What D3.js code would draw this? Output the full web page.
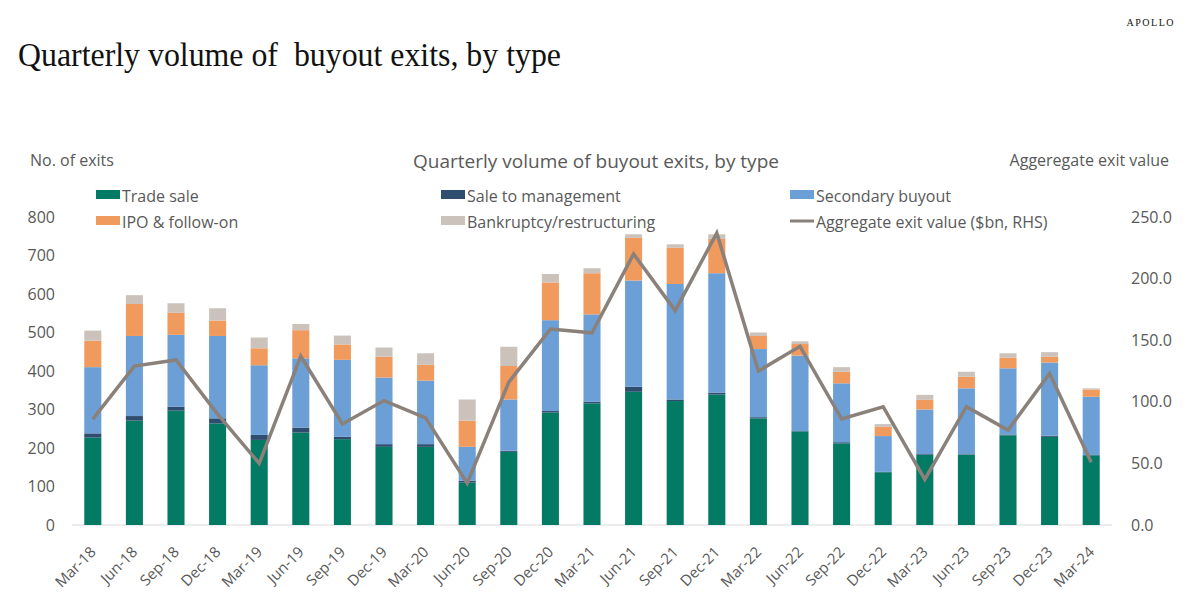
<!DOCTYPE html>
<html>
<head>
<meta charset="utf-8">
<script src="https://cdn.jsdelivr.net/npm/d3@7"></script>
<style>
  body { margin: 0; background: #fff; }
  text { font-family: "Open Sans", "Noto Sans", sans-serif; fill: #595959; }
  .serif { font-family: "Liberation Serif", "DejaVu Serif", serif; fill: #111; }
</style>
</head>
<body>
<div id="chart"></div>
<script>

// quarters
var quarters = ["Mar-18","Jun-18","Sep-18","Dec-18","Mar-19","Jun-19","Sep-19","Dec-19",
  "Mar-20","Jun-20","Sep-20","Dec-20","Mar-21","Jun-21","Sep-21","Dec-21",
  "Mar-22","Jun-22","Sep-22","Dec-22","Mar-23","Jun-23","Sep-23","Dec-23","Mar-24"];

// no. of exits by type
var tradeSale   = [227,271,297,264,221,240,223,203,203,110,190,292,316,346,322,339,277,243,212,137,182,183,233,229,181];
var saleToMgmt  = [11,12,10,13,13,13,6,7,7,5,3,4,4,13,4,5,3,1,3,1,2,1,2,3,1];
var secondary   = [172,208,187,214,181,180,200,173,165,88,133,236,227,276,300,310,177,196,153,93,116,171,172,190,151];
var ipo         = [69,83,57,40,44,73,40,54,41,68,87,98,107,111,94,89,34,30,30,24,25,30,28,15,19];
var bankruptcy  = [26,23,25,32,28,16,23,24,30,55,50,22,13,9,9,12,9,7,12,7,13,13,11,12,3];

// aggregate exit value, $bn (RHS)
var exitValue = [86,129,134,90,50,137,82,101,87,34,116,159,156,220,174,237,125,145,86,96,37,96,77,123,51];

var leftTicks  = [0,100,200,300,400,500,600,700,800];
var rightTicks = [0,50,100,150,200,250];

var seriesKeys   = ["trade","mgmt","secondary","ipo","bankruptcy"];
var seriesNames  = ["Trade sale","Sale to management","Secondary buyout","IPO & follow-on","Bankruptcy/restructuring"];
var seriesColors = ["#037a64","#2f4d6e","#6b9fd5","#f09a5e","#cbc2bb"];
var lineColor = "#8b817b";

var W = 1199, H = 612;
var plot = { left: 72, right: 1112, top: 217, bottom: 525 };

var svg = d3.select("#chart").append("svg")
  .attr("width", W)
  .attr("height", H);

// header
svg.append("text")
  .attr("class", "serif")
  .attr("x", 18)
  .attr("y", 66)
  .attr("textLength", 543)
  .attr("lengthAdjust", "spacingAndGlyphs")
  .style("font-size", "34px")
  .style("white-space", "pre")
  .text("Quarterly volume of  buyout exits, by type");

svg.append("text")
  .attr("class", "serif")
  .attr("x", 1175)
  .attr("y", 26)
  .attr("text-anchor", "end")
  .style("font-size", "10px")
  .style("letter-spacing", "1.5px")
  .text("APOLLO");

// chart titles
svg.append("text").attr("x", 30).attr("y", 166).style("font-size", "16px").text("No. of exits");
svg.append("text").attr("x", 596).attr("y", 168).attr("text-anchor", "middle")
  .style("font-size", "19px").text("Quarterly volume of buyout exits, by type");
svg.append("text").attr("x", 1169).attr("y", 166).attr("text-anchor", "end")
  .style("font-size", "16px").text("Aggeregate exit value");

// data
var rows = quarters.map(function(q, i) {
  return { q: q, trade: tradeSale[i], mgmt: saleToMgmt[i], secondary: secondary[i],
           ipo: ipo[i], bankruptcy: bankruptcy[i], value: exitValue[i] };
});

var x = d3.scaleBand()
  .domain(quarters)
  .range([plot.left, plot.right])
  .paddingInner(0.59)
  .paddingOuter(0.295);

var y = d3.scaleLinear().domain([0, 800]).range([plot.bottom, plot.top]);
var y2 = d3.scaleLinear().domain([0, 250]).range([plot.bottom, plot.top]);

// baseline
svg.append("line")
  .attr("x1", plot.left).attr("x2", plot.right)
  .attr("y1", plot.bottom).attr("y2", plot.bottom)
  .attr("stroke", "#d9d9d9").attr("stroke-width", 1);

// stacked bars
var stack = d3.stack().keys(seriesKeys)(rows);

svg.selectAll(".layer")
  .data(stack)
  .enter().append("g")
  .attr("class", "layer")
  .attr("fill", function(d, i) { return seriesColors[i]; })
  .selectAll("rect")
  .data(function(d) { return d; })
  .enter().append("rect")
  .attr("x", function(d) { return x(d.data.q); })
  .attr("width", x.bandwidth())
  .attr("y", function(d) { return y(d[1]); })
  .attr("height", function(d) { return y(d[0]) - y(d[1]); });

// line on RHS
var line = d3.line()
  .x(function(d) { return x(d.q) + x.bandwidth() / 2; })
  .y(function(d) { return y2(d.value); });

svg.append("path")
  .datum(rows)
  .attr("d", line)
  .attr("fill", "none")
  .attr("stroke", lineColor)
  .attr("stroke-width", 3.5)
  .attr("stroke-linejoin", "miter");

// axes
var leftAxis = svg.append("g")
  .attr("transform", "translate(" + 57 + ",0)")
  .call(d3.axisLeft(y).tickValues(leftTicks).tickSize(0).tickPadding(2));
leftAxis.select(".domain").remove();
leftAxis.selectAll("text").style("font-size", "16px").style("font-family", null).attr("fill", "#595959");

var rightAxis = svg.append("g")
  .attr("transform", "translate(" + 1131 + ",0)")
  .call(d3.axisRight(y2).tickValues(rightTicks).tickSize(0).tickPadding(0).tickFormat(d3.format(".1f")));
rightAxis.select(".domain").remove();
rightAxis.selectAll("text").style("font-size", "16px").style("font-family", null).attr("fill", "#595959");

var bottomAxis = svg.append("g")
  .attr("transform", "translate(0," + plot.bottom + ")")
  .call(d3.axisBottom(x).tickSize(0).tickPadding(0));
bottomAxis.select(".domain").remove();
bottomAxis.selectAll("text")
  .style("font-size", "15px").style("font-family", null).attr("fill", "#595959")
  .attr("text-anchor", "end")
  .attr("dy", null)
  .attr("y", 0)
  .attr("transform", "translate(4,28) rotate(-45)");

// legend
var legendItems = [
  { name: seriesNames[0], color: seriesColors[0], type: "rect", x: 96,  y: 202 },
  { name: seriesNames[1], color: seriesColors[1], type: "rect", x: 441, y: 202 },
  { name: seriesNames[2], color: seriesColors[2], type: "rect", x: 790, y: 202 },
  { name: seriesNames[3], color: seriesColors[3], type: "rect", x: 96,  y: 228 },
  { name: seriesNames[4], color: seriesColors[4], type: "rect", x: 441, y: 228 },
  { name: "Aggregate exit value ($bn, RHS)", color: lineColor, type: "line", x: 790, y: 228 }
];

var legend = svg.selectAll(".legend")
  .data(legendItems)
  .enter().append("g")
  .attr("class", "legend")
  .attr("transform", function(d) { return "translate(" + d.x + "," + d.y + ")"; });

legend.filter(function(d) { return d.type == "rect"; })
  .append("rect")
  .attr("x", 0).attr("y", -12)
  .attr("width", 24).attr("height", 9)
  .attr("fill", function(d) { return d.color; });

legend.filter(function(d) { return d.type == "line"; })
  .append("line")
  .attr("x1", 0).attr("x2", 24)
  .attr("y1", -7).attr("y2", -7)
  .attr("stroke", function(d) { return d.color; })
  .attr("stroke-width", 3);

legend.append("text")
  .attr("x", 26)
  .attr("y", 0)
  .style("font-size", "16px")
  .text(function(d) { return d.name; });

</script>
</body>
</html>
